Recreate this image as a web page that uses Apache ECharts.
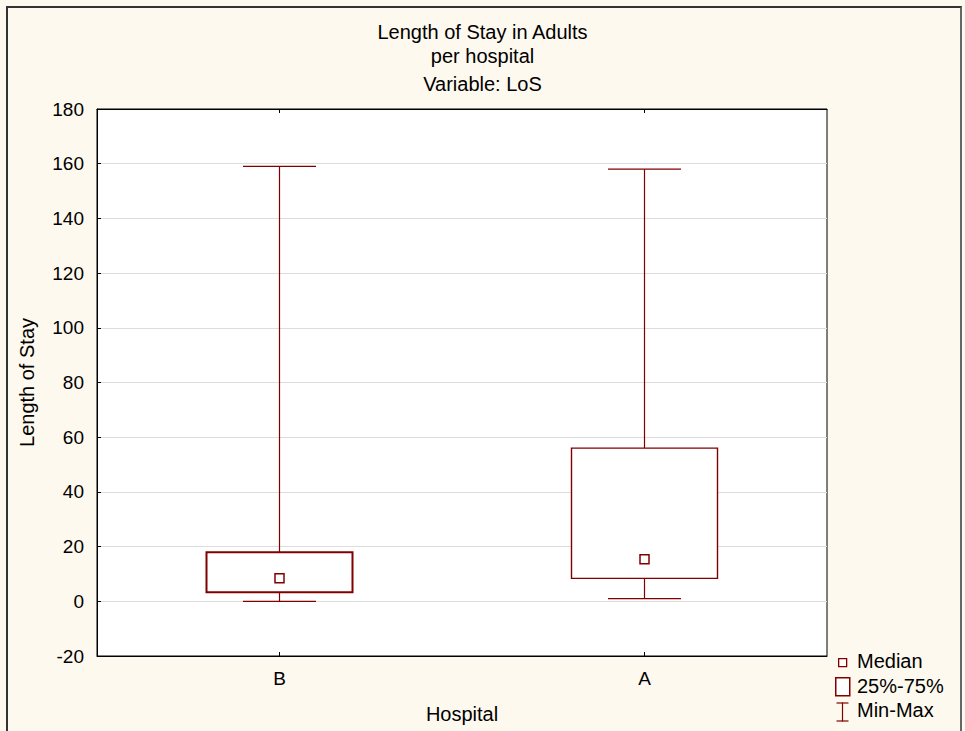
<!DOCTYPE html>
<html>
<head>
<meta charset="utf-8">
<script src="https://cdn.jsdelivr.net/npm/echarts@6/dist/echarts.min.js"></script>
<style>
html,body{margin:0;padding:0;background:#fef9ee;}
#frame{position:absolute;left:6px;top:6px;width:956px;height:740px;border-left:2px solid #333;border-top:2px solid #333;border-right:2px solid #666;box-sizing:border-box;pointer-events:none;}
#chart{position:absolute;left:0;top:0;width:965px;height:731px;}
</style>
</head>
<body>
<div id="chart"></div>
<div id="frame"></div>
<script>
const categories = ['B', 'A'];
const minValues = [0, 1];
const q1Values = [3.3, 8.4];
const medianValues = [8.4, 15.4];
const q3Values = [17.9, 56];
const maxValues = [159, 158];
const yTicks = [-20, 0, 20, 40, 60, 80, 100, 120, 140, 160, 180];
const titleLines = ['Length of Stay in Adults', 'per hospital', 'Variable: LoS'];
const legendLabels = ['Median', '25%-75%', 'Min-Max'];

const boxData = categories.map((c, i) => [i, minValues[i], q1Values[i], medianValues[i], q3Values[i], maxValues[i]]);
const RED = '#800000';
const FONT = 'Liberation Sans, Arial, sans-serif';

const chart = echarts.init(document.getElementById('chart'), null, {renderer: 'svg'});

function renderItem(params, api) {
  const idx = api.value(0);
  const band = api.size([1, 0])[0];
  const pMin = api.coord([idx, api.value(1)]);
  const pQ1 = api.coord([idx, api.value(2)]);
  const pMed = api.coord([idx, api.value(3)]);
  const pQ3 = api.coord([idx, api.value(4)]);
  const pMax = api.coord([idx, api.value(5)]);
  const cx = pMin[0];
  const bw = band * 0.4;
  const cw = band * 0.2;
  const lineStyle = {stroke: RED, lineWidth: 1.2};
  const boxLW = idx === 0 ? 2 : 1.4;
  return {
    type: 'group',
    children: [
      {type: 'line', shape: {x1: cx, y1: pQ3[1], x2: cx, y2: pMax[1]}, style: lineStyle},
      {type: 'line', shape: {x1: cx - cw / 2, y1: pMax[1], x2: cx + cw / 2, y2: pMax[1]}, style: lineStyle},
      {type: 'line', shape: {x1: cx, y1: pMin[1], x2: cx, y2: pQ1[1]}, style: lineStyle},
      {type: 'line', shape: {x1: cx - cw / 2, y1: pMin[1], x2: cx + cw / 2, y2: pMin[1]}, style: lineStyle},
      {type: 'rect', shape: {x: cx - bw / 2, y: pQ3[1], width: bw, height: pQ1[1] - pQ3[1]},
        style: {fill: '#ffffff', stroke: RED, lineWidth: boxLW}},
      {type: 'rect', shape: {x: cx - 4.5, y: pMed[1] - 4.5, width: 9, height: 9},
        style: {fill: '#ffffff', stroke: RED, lineWidth: 1.5}}
    ]
  };
}

const legendX = 834, legendText = 857;
const option = {
  backgroundColor: '#fef9ee',
  animation: false,
  textStyle: {fontFamily: FONT},
  title: titleLines.map((t, i) => ({
    text: t, left: 'center', top: [22, 46, 74][i], padding: 0,
    textStyle: {fontSize: 20, fontWeight: 'normal', color: '#000', fontFamily: FONT}
  })),
  grid: {left: 97, right: 138, top: 109, bottom: 75, show: true, backgroundColor: '#ffffff',
    borderColor: '#000', borderWidth: 1},
  xAxis: [{
    type: 'category', data: categories, position: 'bottom',
    axisLine: {show: true, onZero: false, lineStyle: {color: '#000'}},
    axisTick: {show: true, inside: true, alignWithLabel: true, length: 4, lineStyle: {color: '#000'}},
    axisLabel: {color: '#000', fontSize: 19, margin: 13, fontFamily: FONT},
    name: 'Hospital', nameLocation: 'middle', nameGap: 48,
    nameTextStyle: {color: '#000', fontSize: 20, fontFamily: FONT}
  }, {
    type: 'category', data: categories, position: 'top',
    axisLine: {show: true, onZero: false, lineStyle: {color: '#000'}},
    axisTick: {show: true, inside: true, alignWithLabel: true, length: 4, lineStyle: {color: '#000'}},
    axisLabel: {show: false}
  }],
  yAxis: {
    type: 'value', min: yTicks[0], max: yTicks[yTicks.length - 1], interval: 20,
    axisLine: {show: true, lineStyle: {color: '#000'}},
    axisTick: {show: true, inside: true, length: 4, lineStyle: {color: '#000'}},
    axisLabel: {color: '#000', fontSize: 19, margin: 13, fontFamily: FONT},
    splitLine: {show: true, lineStyle: {color: '#dddddd', width: 1}},
    name: 'Length of Stay', nameLocation: 'middle', nameGap: 60,
    nameTextStyle: {color: '#000', fontSize: 20, fontFamily: FONT}
  },
  series: [{
    type: 'custom', renderItem: renderItem, data: boxData,
    encode: {x: 0, y: [1, 2, 3, 4, 5]}, clip: false, z: 5
  }],
  graphic: [
    {type: 'rect', left: 838, top: 658, shape: {width: 8, height: 8},
      style: {fill: '#fff', stroke: RED, lineWidth: 1.3}},
    {type: 'rect', left: legendX + 1, top: 677, shape: {width: 14, height: 18},
      style: {fill: '#fff', stroke: RED, lineWidth: 1.5}},
    {type: 'group', left: legendX, top: 700, children: [
      {type: 'line', shape: {x1: 8, y1: 0, x2: 8, y2: 19}, style: {stroke: RED, lineWidth: 1.2}},
      {type: 'line', shape: {x1: 2, y1: 0.5, x2: 14, y2: 0.5}, style: {stroke: RED, lineWidth: 1.2}},
      {type: 'line', shape: {x1: 2, y1: 18.5, x2: 14, y2: 18.5}, style: {stroke: RED, lineWidth: 1.2}}
    ]},
    ...legendLabels.map((t, i) => ({
      type: 'text', left: legendText, top: [651, 676, 700][i],
      style: {text: t, fontSize: 20, fill: '#000', fontFamily: FONT}
    }))
  ]
};
chart.setOption(option);
</script>
</body>
</html>
